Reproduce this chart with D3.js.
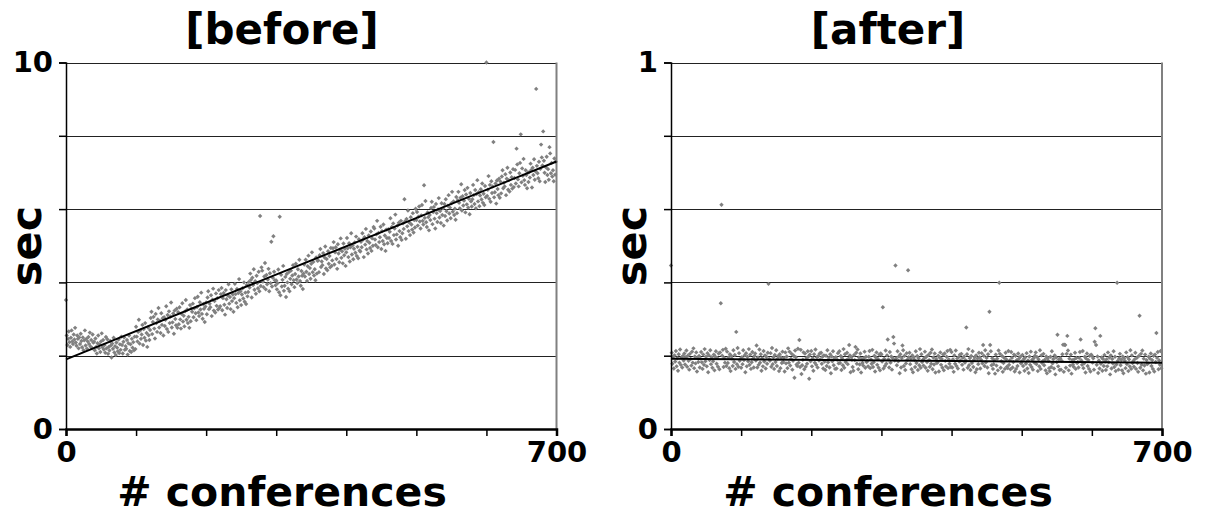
<!DOCTYPE html>
<html><head><meta charset="utf-8">
<script src="https://cdn.jsdelivr.net/npm/d3@7"></script>
<style>body{margin:0;background:#fff}svg{display:block}text{font-family:"DejaVu Sans";font-weight:bold}</style>
</head><body><svg id="c" width="1205" height="515"></svg>
<script>
const titles = ["[before]", "[after]"];
const xLabel = "# conferences";
const yLabel = "sec";
const xTicks = [0,100,200,300,400,500,600,700];
const xTickLabels = ["0","","","","","","","700"];
const yTicksBefore = [0,2,4,6,8,10];
const yTickLabelsBefore = ["0","","","","","10"];
const yTicksAfter = [0,0.2,0.4,0.6,0.8,1];
const yTickLabelsAfter = ["0","","","","","1"];
const trendX = [0,700];
const trendBefore = [1.9,7.3];
const trendAfter = [0.192,0.181];

const secBefore = [
3.52,2.55,2.29,2.46,2.66,2.37,2.24,2.49,2.69,2.39,2.32,2.58,2.44,2.76,2.36,2.27,2.55,2.46,2.20,2.50,
2.32,2.60,2.40,2.23,2.50,2.15,2.42,2.69,2.28,2.46,2.19,2.39,2.51,2.32,2.63,2.25,2.43,2.21,2.58,2.36,
2.38,2.15,2.47,2.24,2.06,2.34,2.55,2.20,2.31,2.10,2.39,2.61,2.23,2.43,2.17,2.29,2.08,2.51,2.20,2.45,
2.05,2.24,2.14,2.40,2.28,1.95,2.33,2.19,2.49,2.09,2.26,2.02,2.36,2.22,2.12,2.44,2.07,2.31,2.16,2.52,
2.29,2.06,2.38,2.50,2.16,2.26,2.19,2.43,2.03,2.34,2.55,2.13,2.31,2.10,2.46,2.22,2.37,2.15,2.52,2.18,
2.79,2.52,2.39,2.65,2.98,2.33,2.69,2.46,2.58,2.84,2.29,2.73,2.49,2.89,2.41,2.62,2.24,2.77,2.56,2.43,
2.70,3.03,3.20,2.59,2.92,3.06,2.74,2.47,3.14,2.89,2.65,2.99,3.30,2.77,2.95,2.62,3.16,2.84,3.02,2.55,
3.05,2.81,2.98,3.35,2.73,3.11,2.65,3.21,2.89,3.07,3.45,2.77,2.91,3.15,2.60,3.23,3.00,2.83,3.28,2.76,
3.19,2.86,3.32,2.99,2.74,3.14,3.43,2.93,3.09,2.80,3.21,3.52,2.98,3.26,2.89,3.06,2.76,3.38,2.94,3.29,
3.20,3.42,3.05,3.29,3.57,3.16,2.97,3.33,3.61,3.18,3.08,3.46,3.26,3.72,3.14,3.01,3.41,3.28,2.92,3.34,
3.45,3.13,3.59,3.76,3.27,3.42,3.32,3.65,3.08,3.53,3.83,3.23,3.49,3.18,3.70,3.36,3.57,3.26,3.79,3.30,
3.35,3.68,3.85,3.24,3.57,3.71,3.39,3.12,3.79,3.54,3.30,3.64,3.95,3.42,3.60,3.27,3.81,3.49,3.67,3.20,
3.57,3.96,3.68,3.44,3.82,3.32,3.71,4.09,3.51,3.76,3.38,3.67,3.84,3.56,4.00,3.47,3.72,3.41,3.93,3.62,
3.74,4.01,3.86,4.24,4.07,3.59,4.13,3.93,4.36,3.80,4.03,3.69,4.18,3.98,3.84,4.29,3.76,5.81,3.90,4.41,
4.32,4.02,3.87,4.16,4.53,3.81,4.20,3.95,4.08,4.37,3.76,4.25,3.98,5.11,3.89,4.13,5.26,4.29,4.06,3.92,
4.05,3.81,3.98,4.35,3.73,5.79,3.65,4.21,3.89,4.07,4.45,3.77,3.91,4.15,3.60,4.23,4.00,3.83,4.28,3.76,
4.10,4.32,3.95,4.19,4.47,4.06,3.87,4.23,4.51,4.08,3.98,4.36,4.16,4.62,4.04,3.91,4.31,4.18,3.82,4.24,
4.49,4.16,4.62,4.29,4.04,4.44,4.73,4.23,4.39,4.10,4.51,4.82,4.28,4.56,4.19,4.36,4.06,4.68,4.24,4.59,
4.60,4.28,4.74,4.91,4.42,4.57,4.47,4.80,4.23,4.68,4.98,4.38,4.64,4.33,4.85,4.51,4.72,4.41,4.94,4.45,
4.60,4.93,5.10,4.49,4.82,4.96,4.64,4.37,5.04,4.79,4.55,4.89,5.20,4.67,4.85,4.52,5.06,4.74,4.92,4.45,
4.82,5.21,4.93,4.69,5.07,4.57,4.96,5.34,4.76,5.01,4.63,4.92,5.09,4.81,5.25,4.72,4.97,4.66,5.18,4.87,
4.84,5.11,4.96,5.34,5.17,4.69,5.23,5.03,5.46,4.90,5.13,4.79,5.28,5.08,4.94,5.39,4.86,5.20,5.00,5.51,
5.47,5.17,5.02,5.31,5.68,4.96,5.35,5.10,5.23,5.52,4.91,5.40,5.13,5.58,5.04,5.28,4.86,5.44,5.21,5.07,
5.45,5.21,5.38,5.75,5.13,5.51,5.05,5.61,5.29,5.47,5.85,5.17,5.31,5.55,5.00,5.63,5.40,5.23,5.68,5.16,
5.34,5.61,5.46,6.27,5.67,5.19,5.73,5.53,5.96,5.40,5.63,5.29,5.78,5.58,5.44,5.89,5.36,5.70,5.50,6.01,
5.70,5.92,5.55,5.79,6.07,5.66,5.47,5.83,6.11,5.68,5.58,6.65,5.76,6.22,5.64,5.51,5.91,5.78,5.42,5.84,
5.70,6.03,6.20,5.59,5.92,6.06,5.74,5.47,6.14,5.89,5.65,5.99,6.30,5.77,5.95,5.62,6.16,5.84,6.02,5.55,
6.14,5.81,6.27,5.94,5.69,6.09,6.38,5.88,6.04,5.75,6.16,6.47,5.93,6.21,5.84,6.01,5.71,6.33,5.89,6.24,
6.47,6.17,6.02,6.31,6.68,5.96,6.35,6.10,6.23,6.52,5.91,6.40,6.13,6.58,6.04,6.28,5.86,6.44,6.21,6.07,
6.27,6.66,6.38,6.14,6.52,6.02,6.41,6.79,6.21,6.46,6.08,6.37,6.54,6.26,6.70,6.17,6.42,6.11,6.63,6.32,
10.0,6.36,6.53,6.90,6.28,6.66,6.20,6.76,6.44,6.62,7.83,6.32,6.46,6.70,6.15,6.78,6.55,6.38,6.83,6.31,
6.75,6.43,6.89,7.06,6.57,6.72,6.62,6.95,6.38,6.83,7.13,6.53,6.79,6.48,7.00,6.66,6.87,6.56,7.09,6.60,
6.85,7.07,6.70,7.65,7.22,6.81,6.62,6.98,7.26,8.04,6.73,7.11,6.91,7.37,6.79,6.66,7.06,6.93,6.57,6.99,
6.74,7.01,6.86,7.24,7.07,6.59,7.13,6.93,7.36,6.80,7.03,9.28,7.18,6.98,6.84,7.29,6.76,7.10,7.76,7.41,
7.19,8.12,7.32,6.99,6.74,7.14,7.43,6.93,7.09,6.80,7.69,7.52,6.98,7.26,6.89,7.06,6.76,7.38,6.94,7.29
];

const secAfter = [
.446,.208,.178,.197,.165,.201,.184,.213,.171,.193,.159,.204,.181,.217,.175,.195,.168,.199,.187,.206,
.176,.196,.214,.170,.200,.186,.162,.205,.191,.173,.211,.181,.220,.166,.198,.179,.209,.157,.194,.183,
.199,.168,.192,.210,.182,.164,.203,.175,.218,.185,.197,.171,.207,.155,.201,.188,.215,.177,.196,.167,
.185,.203,.160,.198,.212,.178,.194,.170,.206,.163,.209,.343,.612,.200,.216,.169,.193,.181,.219,.172,
.211,.180,.195,.166,.204,.158,.199,.192,.172,.215,.183,.202,.164,.265,.177,.221,.170,.207,.186,.191,
.167,.196,.177,.215,.188,.201,.155,.207,.171,.197,.185,.218,.175,.203,.164,.182,.210,.192,.168,.199,
.206,.187,.228,.168,.195,.175,.217,.181,.204,.159,.193,.171,.213,.184,.201,.165,.197,.178,.208,.396,
.191,.186,.207,.170,.221,.177,.196,.164,.202,.183,.215,.172,.192,.199,.158,.204,.166,.195,.180,.211,
.183,.194,.157,.209,.179,.198,.166,.220,.181,.211,.173,.191,.205,.162,.186,.200,.140,.214,.196,.176,
.172,.219,.181,.243,.169,.216,.150,.174,.189,.209,.163,.206,.170,.194,.178,.212,.198,.137,.203,.185,
.213,.171,.193,.159,.204,.181,.217,.175,.195,.168,.199,.187,.206,.190,.208,.178,.197,.165,.201,.184,
.161,.200,.172,.215,.182,.194,.168,.204,.152,.198,.185,.212,.174,.193,.164,.196,.165,.189,.207,.179,
.212,.180,.199,.161,.193,.174,.218,.167,.204,.183,.188,.208,.177,.192,.229,.201,.155,.196,.189,.169,
.159,.202,.188,.224,.208,.178,.217,.163,.195,.176,.206,.154,.191,.180,.173,.193,.211,.167,.197,.183,
.186,.171,.197,.213,.166,.190,.178,.216,.169,.182,.200,.157,.195,.209,.175,.191,.167,.203,.160,.206,
.203,.184,.332,.165,.192,.172,.214,.178,.201,.244,.190,.168,.210,.181,.198,.162,.194,.251,.233,.187,
.446,.193,.174,.212,.185,.198,.152,.204,.168,.194,.228,.215,.172,.200,.161,.179,.207,.189,.433,.196,
.208,.177,.192,.163,.201,.155,.196,.189,.169,.212,.180,.199,.161,.193,.174,.218,.167,.204,.183,.188,
.173,.193,.211,.167,.197,.183,.159,.202,.188,.170,.208,.178,.217,.163,.195,.176,.206,.154,.191,.180,
.182,.200,.157,.195,.209,.175,.191,.167,.203,.160,.206,.186,.171,.197,.213,.166,.190,.178,.216,.169,
.210,.168,.190,.156,.201,.178,.214,.172,.192,.165,.196,.184,.203,.187,.205,.175,.194,.162,.198,.181,
.188,.277,.204,.167,.218,.174,.193,.161,.199,.180,.212,.169,.189,.196,.155,.201,.163,.192,.177,.208,
.196,.165,.189,.207,.179,.229,.200,.172,.215,.182,.194,.168,.204,.152,.320,.229,.212,.174,.193,.164,
.177,.188,.151,.203,.173,.192,.160,.214,.399,.205,.167,.185,.199,.156,.180,.194,.164,.208,.190,.170,
.166,.213,.175,.187,.163,.210,.194,.168,.183,.203,.157,.200,.164,.188,.172,.206,.192,.154,.197,.179,
.184,.202,.172,.191,.159,.195,.178,.207,.165,.187,.153,.198,.175,.211,.169,.189,.162,.193,.181,.200,
.209,.177,.196,.158,.190,.171,.215,.164,.201,.180,.185,.205,.174,.189,.160,.198,.152,.193,.186,.166,
.158,.197,.169,.212,.179,.191,.165,.201,.149,.195,.182,.257,.171,.190,.161,.193,.162,.186,.204,.230,
.156,.230,.229,.167,.205,.254,.214,.160,.192,.173,.203,.151,.188,.177,.170,.190,.208,.164,.194,.180,
.183,.168,.194,.210,.244,.187,.175,.213,.166,.179,.197,.154,.192,.206,.172,.188,.164,.200,.157,.203,
.200,.181,.193,.162,.238,.275,.229,.175,.198,.153,.187,.165,.254,.178,.195,.159,.191,.172,.202,.184,
.161,.190,.171,.209,.182,.195,.149,.201,.165,.191,.179,.212,.169,.197,.158,.176,.399,.186,.162,.193,
.205,.174,.189,.160,.198,.152,.193,.186,.166,.209,.177,.196,.158,.190,.171,.215,.164,.201,.180,.185,
.170,.190,.208,.164,.194,.180,.156,.199,.309,.167,.205,.175,.214,.160,.192,.173,.203,.151,.188,.177,
.179,.197,.154,.192,.206,.172,.188,.164,.200,.157,.203,.183,.262,.194,.210,.163,.187,.175,.213,.166
];

const svg = d3.select("#c");
const marker = "M0,-2.2L2.2,0L0,2.2L-2.2,0Z";

function panel(o) {
  const x = d3.scaleLinear().domain([0,700]).range([o.left, o.right]);
  const y = d3.scaleLinear().domain([0,o.yMax]).range([429, 62.5]);
  const g = svg.append("g");
  g.selectAll("line.grid").data(o.yTicks.slice(1)).join("line")
    .attr("x1", o.left).attr("x2", o.right)
    .attr("y1", d => Math.round(y(d)) + 0.5).attr("y2", d => Math.round(y(d)) + 0.5)
    .attr("stroke", "#222").attr("stroke-width", 1);
  g.append("line").attr("x1", o.right).attr("x2", o.right).attr("y1", y(o.yMax)).attr("y2", 429)
    .attr("stroke", "#808080").attr("stroke-width", 2);
  g.selectAll("path.pt").data(o.values).join("path")
    .attr("d", marker)
    .attr("transform", (d,i) => `translate(${x(i)},${y(d)})`)
    .attr("fill", "#808080");
  g.append("line")
    .attr("x1", x(trendX[0])).attr("x2", x(trendX[1]))
    .attr("y1", y(o.trend[0])).attr("y2", y(o.trend[1]))
    .attr("stroke", "#000").attr("stroke-width", 2);
  const ax = g.append("g").attr("transform", "translate(0,429)")
    .call(d3.axisBottom(x).tickValues(xTicks).tickSize(7).tickPadding(5)
      .tickFormat((d,i) => xTickLabels[i]));
  ax.select(".domain").attr("stroke", "#000").attr("stroke-width", 2.5);
  ax.selectAll(".tick line").attr("stroke", "#000").attr("stroke-width", 1.5);
  ax.selectAll("text").attr("font-size", 29).attr("font-family", "DejaVu Sans").attr("font-weight", "bold").attr("fill", "#000");
  const ay = g.append("g").attr("transform", `translate(${o.left},0)`)
    .call(d3.axisLeft(y).tickValues(o.yTicks).tickSize(7).tickPadding(6)
      .tickFormat((d,i) => o.yLabels[i]));
  ay.select(".domain").attr("stroke", "#000").attr("stroke-width", 1.5);
  ay.selectAll(".tick line").attr("stroke", "#000").attr("stroke-width", 1.5);
  ay.selectAll("text").attr("font-size", 29).attr("font-family", "DejaVu Sans").attr("font-weight", "bold").attr("fill", "#000");
  g.append("text").attr("x", o.cx).attr("y", 44).attr("text-anchor", "middle")
    .attr("font-size", 42).text(o.title);
  g.append("text").attr("x", o.cx).attr("y", 506).attr("text-anchor", "middle")
    .attr("font-size", 41).text(xLabel);
  g.append("text").attr("transform", `translate(${o.left - 25},246) rotate(-90)`)
    .attr("text-anchor", "middle").attr("font-size", 43).text(yLabel);
}

panel({left:66, right:556.5, yMax:10, yTicks:yTicksBefore, yLabels:yTickLabelsBefore,
  values:secBefore, trend:trendBefore, title:titles[0], cx:282});
panel({left:671, right:1162, yMax:1, yTicks:yTicksAfter, yLabels:yTickLabelsAfter,
  values:secAfter, trend:trendAfter, title:titles[1], cx:888});
</script></body></html>
